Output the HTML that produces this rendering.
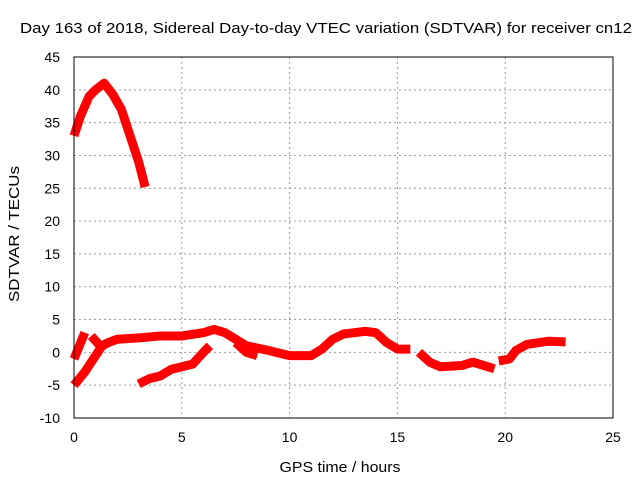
<!DOCTYPE html>
<html><head><meta charset="utf-8"><style>
body{margin:0;background:#fff}
svg{display:block;font-family:"Liberation Sans",sans-serif}
</style></head><body>
<svg id="chart" width="640" height="480">
<rect width="640" height="480" fill="#fff"/>
<text x="326" y="33" font-size="15" text-anchor="middle" textLength="612" lengthAdjust="spacingAndGlyphs">Day 163 of 2018, Sidereal Day-to-day VTEC variation (SDTVAR) for receiver cn12</text>
<text x="340" y="472" font-size="15" text-anchor="middle" textLength="121" lengthAdjust="spacingAndGlyphs">GPS time / hours</text>
<text transform="translate(19,234) rotate(-90)" font-size="15" text-anchor="middle" textLength="136" lengthAdjust="spacingAndGlyphs">SDTVAR / TECUs</text>
<g id="grid"></g><g id="series"></g>
<rect x="74" y="57" width="539" height="361" fill="none" stroke="#000"/>
</svg>
<script>
const xTicks=[0,5,10,15,20,25];
const yTicks=[-10,-5,0,5,10,15,20,25,30,35,40,45];
const segA=[[0,33],[0.3,36],[0.7,39],[1.0,40],[1.4,41],[1.8,39.3],[2.2,37],[2.6,33],[3.0,29],[3.3,25.2]];
const segB=[[0,-5],[0.5,-3],[1.0,-0.5],[1.3,1],[1.6,1.5],[2,2],[3,2.2],[4,2.5],[5,2.5],[6,3],[6.5,3.5],[7,3],[7.5,2],[8,1],[9,0.3],[10,-0.5],[11,-0.5],[11.5,0.5],[12,2],[12.5,2.8],[13,3],[13.5,3.2],[14,3],[14.5,1.5],[15,0.5],[15.6,0.5]];
const segC=[[16,0],[16.5,-1.5],[17,-2.2],[18,-2],[18.5,-1.5],[19,-2],[19.5,-2.5]];
const segD=[[19.7,-1.3],[20.2,-1],[20.5,0.3],[21,1.2],[22,1.7],[22.8,1.6]];
const segE=[[3.0,-4.8],[3.5,-4],[4,-3.6],[4.5,-2.6],[5,-2.2],[5.5,-1.8],[6,0],[6.3,1]];
const segF=[[0,-1],[0.5,3]];
const segG=[[0.8,2.5],[1.4,0.3]];
const segH=[[7.5,1.5],[8,0],[8.5,-0.5]];
const X=v=>74+v*(539/25), Y=v=>418-(v+10)*(361/55);
const NS="http://www.w3.org/2000/svg";
const grid=document.getElementById('grid'), ser=document.getElementById('series'), svg=document.getElementById('chart');
xTicks.forEach(t=>{
 if(t>0&&t<25){const l=document.createElementNS(NS,'line');l.setAttribute('x1',X(t));l.setAttribute('x2',X(t));l.setAttribute('y1',57);l.setAttribute('y2',418);l.setAttribute('stroke','#999');l.setAttribute('stroke-dasharray','2,3');
 
 grid.appendChild(l);}
 const tx=document.createElementNS(NS,'text');tx.setAttribute('x',X(t));tx.setAttribute('y',442);tx.setAttribute('font-size','14');tx.setAttribute('text-anchor','middle');tx.textContent=t;
 
 svg.appendChild(tx);
});
yTicks.forEach(t=>{
 if(t>-10&&t<45){const l=document.createElementNS(NS,'line');l.setAttribute('x1',74);l.setAttribute('x2',613);l.setAttribute('y1',Y(t));l.setAttribute('y2',Y(t));l.setAttribute('stroke','#999');l.setAttribute('stroke-dasharray','2,3');
 
 grid.appendChild(l);}
 const tx=document.createElementNS(NS,'text');tx.setAttribute('x',60);tx.setAttribute('y',Y(t)+5);tx.setAttribute('font-size','14');tx.setAttribute('text-anchor','end');tx.textContent=t;
 
 svg.appendChild(tx);
});
[segA,segB,segC,segD,segE,segF,segG,segH].forEach(s=>{
 const p=document.createElementNS(NS,'polyline');
 p.setAttribute('points',s.map(d=>X(d[0])+','+Y(d[1])).join(' '));
 p.setAttribute('fill','none');p.setAttribute('stroke','#f00');p.setAttribute('stroke-width','9');p.setAttribute('stroke-linejoin','round');
 
 
 ser.appendChild(p);
});
</script>
</body></html>
